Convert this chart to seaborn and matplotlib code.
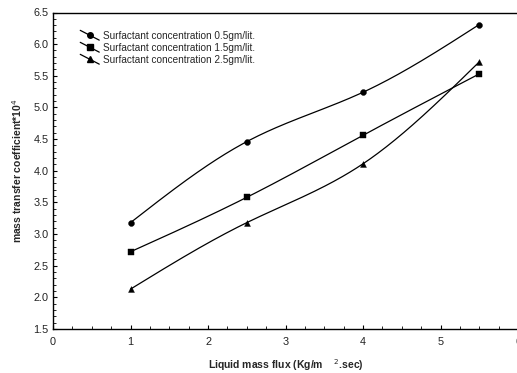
import numpy as np
import pandas as pd
import matplotlib
matplotlib.use("Agg")
import matplotlib.pyplot as plt
from matplotlib.legend_handler import HandlerLine2D
from matplotlib.lines import Line2D
from matplotlib.ticker import MultipleLocator, FormatStrFormatter
import seaborn as sns

# ---- data ----
liquid_flux = [1.0, 2.5, 4.0, 5.5]
conc_05 = [3.18, 4.46, 5.24, 6.31]
conc_15 = [2.72, 3.58, 4.56, 5.53]
conc_25 = [2.13, 3.18, 4.11, 5.72]
series_labels = ["Surfactant concentration 0.5gm/lit.",
                 "Surfactant concentration 1.5gm/lit.",
                 "Surfactant concentration 2.5gm/lit."]
series_values = [conc_05, conc_15, conc_25]
markers = ["o", "s", "^"]

sns.set_theme(style="white")
plt.rcParams['font.family'] = ['Liberation Sans', 'DejaVu Sans']


def natural_spline(x, y, n=200):
    x = np.asarray(x, float); y = np.asarray(y, float)
    k = len(x); h = np.diff(x)
    A = np.zeros((k, k)); b = np.zeros(k)
    A[0, 0] = A[-1, -1] = 1
    for i in range(1, k - 1):
        A[i, i - 1] = h[i - 1]; A[i, i] = 2 * (h[i - 1] + h[i]); A[i, i + 1] = h[i]
        b[i] = 6 * ((y[i + 1] - y[i]) / h[i] - (y[i] - y[i - 1]) / h[i - 1])
    M = np.linalg.solve(A, b)
    xs = np.linspace(x[0], x[-1], n)
    idx = np.clip(np.searchsorted(x, xs) - 1, 0, k - 2)
    x0 = x[idx]; x1 = x[idx + 1]; hh = x1 - x0
    ys = (M[idx] * (x1 - xs) ** 3 / (6 * hh) + M[idx + 1] * (xs - x0) ** 3 / (6 * hh)
          + (y[idx] / hh - M[idx] * hh / 6) * (x1 - xs)
          + (y[idx + 1] / hh - M[idx + 1] * hh / 6) * (xs - x0))
    return xs, ys


class SlantHandler(HandlerLine2D):
    def create_artists(self, legend, orig_handle, xdescent, ydescent,
                       width, height, fontsize, trans):
        x0, x1 = -xdescent, -xdescent + width
        y0, y1 = -ydescent + height * 1.2, -ydescent - height * 0.2
        line = Line2D([x0, x1], [y0, y1], color="black", lw=0.9)
        mk = Line2D([(x0 + x1) / 2], [(y0 + y1) / 2], marker=orig_handle.get_marker(),
                    color="black", markersize=4, linestyle="none")
        line.set_transform(trans); mk.set_transform(trans)
        return [line, mk]


fig = plt.figure(figsize=(5.17, 3.73), dpi=100)
ax = fig.add_axes([53 / 517, 1 - 329 / 373, (518 - 53) / 517, (329 - 12.5) / 373])

handles = []
for vals, lab, mk in zip(series_values, series_labels, markers):
    xs, ys = natural_spline(liquid_flux, vals)
    sns.lineplot(x=xs, y=ys, ax=ax, color="black", lw=0.9, sort=False)
    df = pd.DataFrame({"x": liquid_flux, "y": vals})
    sns.scatterplot(data=df, x="x", y="y", ax=ax, marker=mk, color="black",
                    s=18, edgecolor="black", linewidth=0.3, zorder=3)
    handles.append(Line2D([], [], color="black", marker=mk, label=lab))

ax.set_xlim(0, 6)
ax.set_ylim(1.5, 6.5)
ax.xaxis.set_major_locator(MultipleLocator(1))
ax.xaxis.set_minor_locator(MultipleLocator(0.25))
ax.yaxis.set_major_locator(MultipleLocator(0.5))
ax.yaxis.set_minor_locator(MultipleLocator(0.1))
ax.yaxis.set_major_formatter(FormatStrFormatter("%.1f"))
ax.tick_params(which="both", direction="in", color="black", labelsize=7.8, labelcolor="#222222")
ax.tick_params(which="major", length=3, width=0.8)
ax.tick_params(axis="x", which="major", pad=6)
ax.tick_params(axis="y", which="major", pad=3)
ax.tick_params(which="minor", length=2, width=0.6)
ax.tick_params(axis="x", which="both", top=False, bottom=True)
ax.tick_params(axis="y", which="both", left=True, right=False)
for side in ["left", "bottom", "top"]:
    ax.spines[side].set_color("black")
    ax.spines[side].set_linewidth(1.0)
ax.spines["right"].set_visible(False)

ax.set_xlabel("Liquid mass flux (Kg/m    $^{2}$.sec)", fontsize=7.5, fontweight="bold", labelpad=7)
ax.set_ylabel("mass transfer coefficient*10$^{4}$", fontsize=7.5, fontweight="bold", labelpad=7)

leg = ax.legend(handles=handles, loc="upper left", bbox_to_anchor=(0.05, 0.955),
                frameon=False, fontsize=7.2, handlelength=1.9, handletextpad=0.4,
                labelspacing=0.2, borderaxespad=0,
                handler_map={Line2D: SlantHandler()})

fig.savefig("out.png", dpi=100)
